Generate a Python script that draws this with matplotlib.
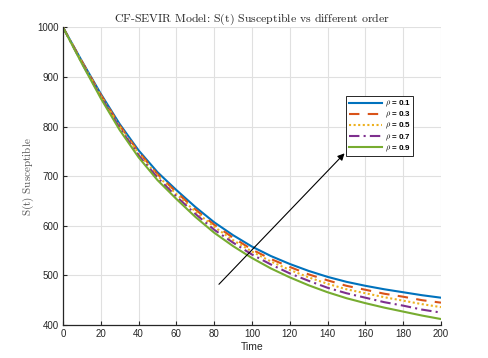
import matplotlib
matplotlib.use("Agg")
import matplotlib.pyplot as plt

# values
t = [0, 10, 20, 30, 40, 50, 60, 70, 80, 90, 100,
     110, 120, 130, 140, 150, 160, 170, 180, 190, 200]

s_01 = [1000, 932, 866, 805, 752, 708, 672, 638, 607, 581, 558,
        539, 523, 509, 497, 487, 479, 472, 466, 460, 455]
s_03 = [1000, 931, 864, 802, 749, 704, 668, 633, 602, 576, 552,
        533, 517, 502, 490, 479, 471, 463, 457, 450, 445]
s_05 = [1000, 930, 862, 800, 746, 701, 664, 629, 598, 571, 548,
        528, 511, 496, 483, 472, 464, 456, 449, 442, 436]
s_07 = [1000, 928, 860, 797, 742, 697, 659, 624, 592, 566, 542,
        522, 504, 489, 475, 464, 455, 446, 439, 431, 425]
s_09 = [1000, 927, 857, 793, 738, 692, 654, 618, 586, 559, 535,
        514, 496, 480, 466, 454, 444, 435, 427, 419, 412]

orders = ['0.1', '0.3', '0.5', '0.7', '0.9']
series = [s_01, s_03, s_05, s_07, s_09]
colors = ['#0072BD', '#D95319', '#EDB120', '#7E2F8E', '#77AC30']
styles = ['-', (0, (5, 4)), (0, (1, 1.2)), (0, (5, 2, 1, 2)), '-']

xticks = list(range(0, 201, 20))
yticks = list(range(400, 1001, 100))

plt.rcParams['mathtext.fontset'] = 'cm'
plt.rcParams['font.family'] = 'Liberation Sans'

fig = plt.figure(figsize=(4.89, 3.58), dpi=100)
ax = fig.add_axes([0.1288, 0.0922, 0.7730, 0.8315])

for s, o, c, ls in zip(series, orders, colors, styles):
    ax.plot(t, s, color=c, linestyle=ls, linewidth=1.5, label=r'$\rho$ = ' + o)

ax.set_xlim(0, 200)
ax.set_ylim(400, 1000)
ax.set_xticks(xticks)
ax.set_yticks(yticks)
ax.grid(True, color='#e0e0e0', linewidth=0.8)
ax.set_axisbelow(True)
for side in ['top', 'right']:
    ax.spines[side].set_visible(False)
for side in ['left', 'bottom']:
    ax.spines[side].set_color('#262626')
    ax.spines[side].set_linewidth(0.9)
ax.tick_params(direction='in', length=3, width=0.8, labelsize=7,
               colors='#262626', pad=3)

ax.set_xlabel('Time', fontsize=7.5, color='#262626', labelpad=2)
ax.set_ylabel(r'$\text{S(t) Susceptible}$', fontsize=8, color='#555555', labelpad=1)
ax.set_title(r'$\text{CF-SEVIR Model: S(t) Susceptible vs different order}$',
             fontsize=8.5, color='#262626', pad=4)

leg = ax.legend(loc='upper left', bbox_to_anchor=(0.749, 0.768),
                prop={'weight': 'bold', 'size': 5.8}, fancybox=False,
                framealpha=1, edgecolor='#262626', handlelength=4.2,
                borderpad=0.3, labelspacing=0.12, handletextpad=0.3,
                borderaxespad=0)
leg.get_frame().set_linewidth(0.7)

ax.annotate('', xy=(150, 750), xytext=(81.5, 478),
            arrowprops=dict(arrowstyle='-|>', color='black', lw=0.8,
                            mutation_scale=10))

fig.savefig('out.png', dpi=100)
